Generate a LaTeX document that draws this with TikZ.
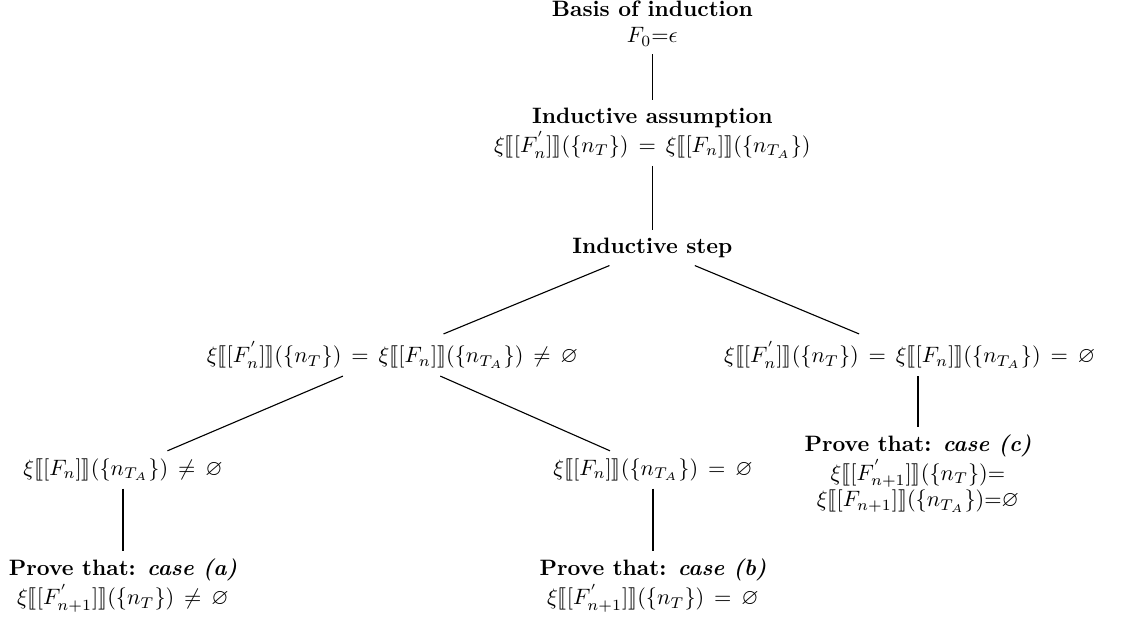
\documentclass[tikz,border=0pt]{standalone}
\usepackage{amsmath}
\usepackage{amssymb}
\usepackage{stmaryrd}
\usepackage{tikz}
\usetikzlibrary{calc}

\tikzset{
	stage/.style={align=center, inner sep=3.3pt, execute at begin node={\thickmuskip=8mu}},
	branch/.style={line width=0.5pt}
}
\newcommand{\sem}[1]{\xi\llbracket[#1]\rrbracket}

\begin{document}
\begin{tikzpicture}
		\useasboundingbox (0, 0) rectangle (17.73, -9.85);

		\node [stage] (basis) at (10.29, -0.37) {\textbf{Basis of induction}\\$F_0{=}\epsilon$};
		\node [stage] (assume) at (10.29, -2.10) {\textbf{Inductive assumption}\\[1pt]$\sem{F^{'}_n}(\{n_T\}) = \sem{F_n}(\{n_{T_A}\})$};
		\node [stage] (step) at (10.29, -3.91) {\textbf{Inductive step}};
		\node [stage] (left) at (6.19, -5.60) {$\sem{F^{'}_n}(\{n_T\}) = \sem{F_n}(\{n_{T_A}\}) \neq \varnothing$};
		\node [stage] (right) at (14.35, -5.60) {$\sem{F^{'}_n}(\{n_T\}) = \sem{F_n}(\{n_{T_A}\}) = \varnothing$};
		\node [stage] (leftA) at (1.94, -7.41) {$\sem{F_n}(\{n_{T_A}\}) \neq \varnothing$};
		\node [stage] (leftB) at (10.30, -7.41) {$\sem{F_n}(\{n_{T_A}\}) = \varnothing$};
		\node [stage] (caseA) at (1.94, -9.24) {\textbf{Prove that: \textit{case (a)}}\\[1pt]$\sem{F^{'}_{n+1}}(\{n_T\}) \neq \varnothing$};
		\node [stage] (caseB) at (10.30, -9.24) {\textbf{Prove that: \textit{case (b)}}\\[1pt]$\sem{F^{'}_{n+1}}(\{n_T\}) = \varnothing$};
		\node [stage] (caseC) at (14.48, -7.47) {\textbf{Prove that: \textit{case (c)}}\\[1pt]$\sem{F^{'}_{n+1}}(\{n_T\}){=}$\\$\sem{F_{n+1}}(\{n_{T_A}\}){=}\varnothing$};

		\draw [branch] (basis) -- (assume);
		\draw [branch] (assume) -- (step);
		\draw [branch] (step) -- (left);
		\draw [branch] (step) -- (right);
		\draw [branch] (left) -- (leftA);
		\draw [branch] (left) -- (leftB);
		\draw [branch] (leftA) -- (caseA);
		\draw [branch] (leftB) -- (caseB);
		\draw [branch] (caseC.north |- right.south) -- (caseC);
	\end{tikzpicture}
\end{document}
